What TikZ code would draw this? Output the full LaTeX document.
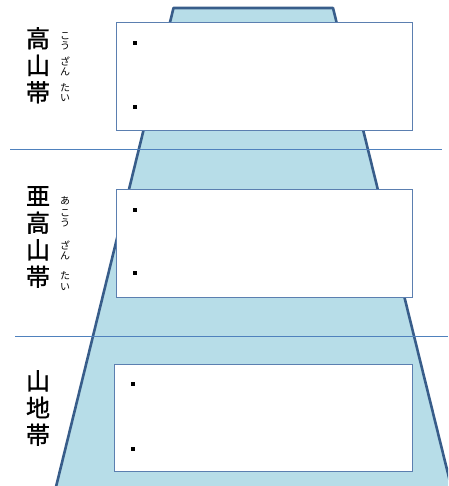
\documentclass[tikz,border=0pt]{standalone}
\usepackage{fontspec}
\newfontfamily\jp{Noto Sans CJK JP}
\newfontfamily\jpbig[FakeBold=1.2]{Noto Sans CJK JP}
\definecolor{mtfill}{HTML}{B7DDE8}
\definecolor{mtline}{HTML}{385D8A}
\definecolor{sepline}{HTML}{4F81BD}
\definecolor{boxline}{HTML}{5B7FB0}
\begin{document}
\begin{tikzpicture}[x=1pt,y=-1pt,
  infobox/.style={draw=boxline,line width=1pt,fill=white},
  bulletsq/.style={fill=black,minimum size=4pt,inner sep=0pt},
  zone/.style={font=\jpbig\fontsize{24}{27}\selectfont,align=center,inner sep=0pt,anchor=north},
  kana/.style={font=\jp\fontsize{10}{10}\selectfont,inner sep=0pt},
  sep/.style={draw=sepline,line width=1pt}]
\useasboundingbox (0,0) rectangle (448,486);
\begin{scope}
\clip (0,0) rectangle (448,486);
\draw[fill=mtfill,draw=mtline,line width=2.6pt,line join=round]
  (173.5,8) -- (333,8) -- (455,502) -- (54,495) -- cycle;
\end{scope}
\draw[sep] (10,150) -- (442,150);
\draw[sep] (15,336) -- (448,336);
\node[infobox,minimum width=296pt,minimum height=108pt,anchor=north west] (b1) at (116,22) {};
\node[infobox,minimum width=296pt,minimum height=108pt,anchor=north west] (b2) at (116,189) {};
\node[infobox,minimum width=298pt,minimum height=107pt,anchor=north west] (b3) at (114,364) {};
\node[bulletsq] (p1) at (135,43) {};
\node[bulletsq] (p2) at (135,107) {};
\node[bulletsq] (p3) at (135,210) {};
\node[bulletsq] (p4) at (135,273) {};
\node[bulletsq] (p5) at (133,384) {};
\node[bulletsq] (p6) at (133,449) {};
\node[zone] (z1) at (38,27) {高\\山\\帯};
\node[zone] (z2) at (38,186) {亜\\高\\山\\帯};
\node[zone] (z3) at (38,370) {山\\地\\帯};
\node[kana] (k1) at (65,36) {こ};
\node[kana] (k2) at (65,46) {う};
\node[kana] (k3) at (65,61) {ざ};
\node[kana] (k4) at (65,72) {ん};
\node[kana] (k5) at (65,88) {た};
\node[kana] (k6) at (65,98) {い};
\node[kana] (k7) at (65,201) {あ};
\node[kana] (k8) at (65,213) {こ};
\node[kana] (k9) at (65,223) {う};
\node[kana] (k10) at (65,245) {ざ};
\node[kana] (k11) at (65,256) {ん};
\node[kana] (k12) at (65,276) {た};
\node[kana] (k13) at (65,287) {い};
\end{tikzpicture}
\end{document}
